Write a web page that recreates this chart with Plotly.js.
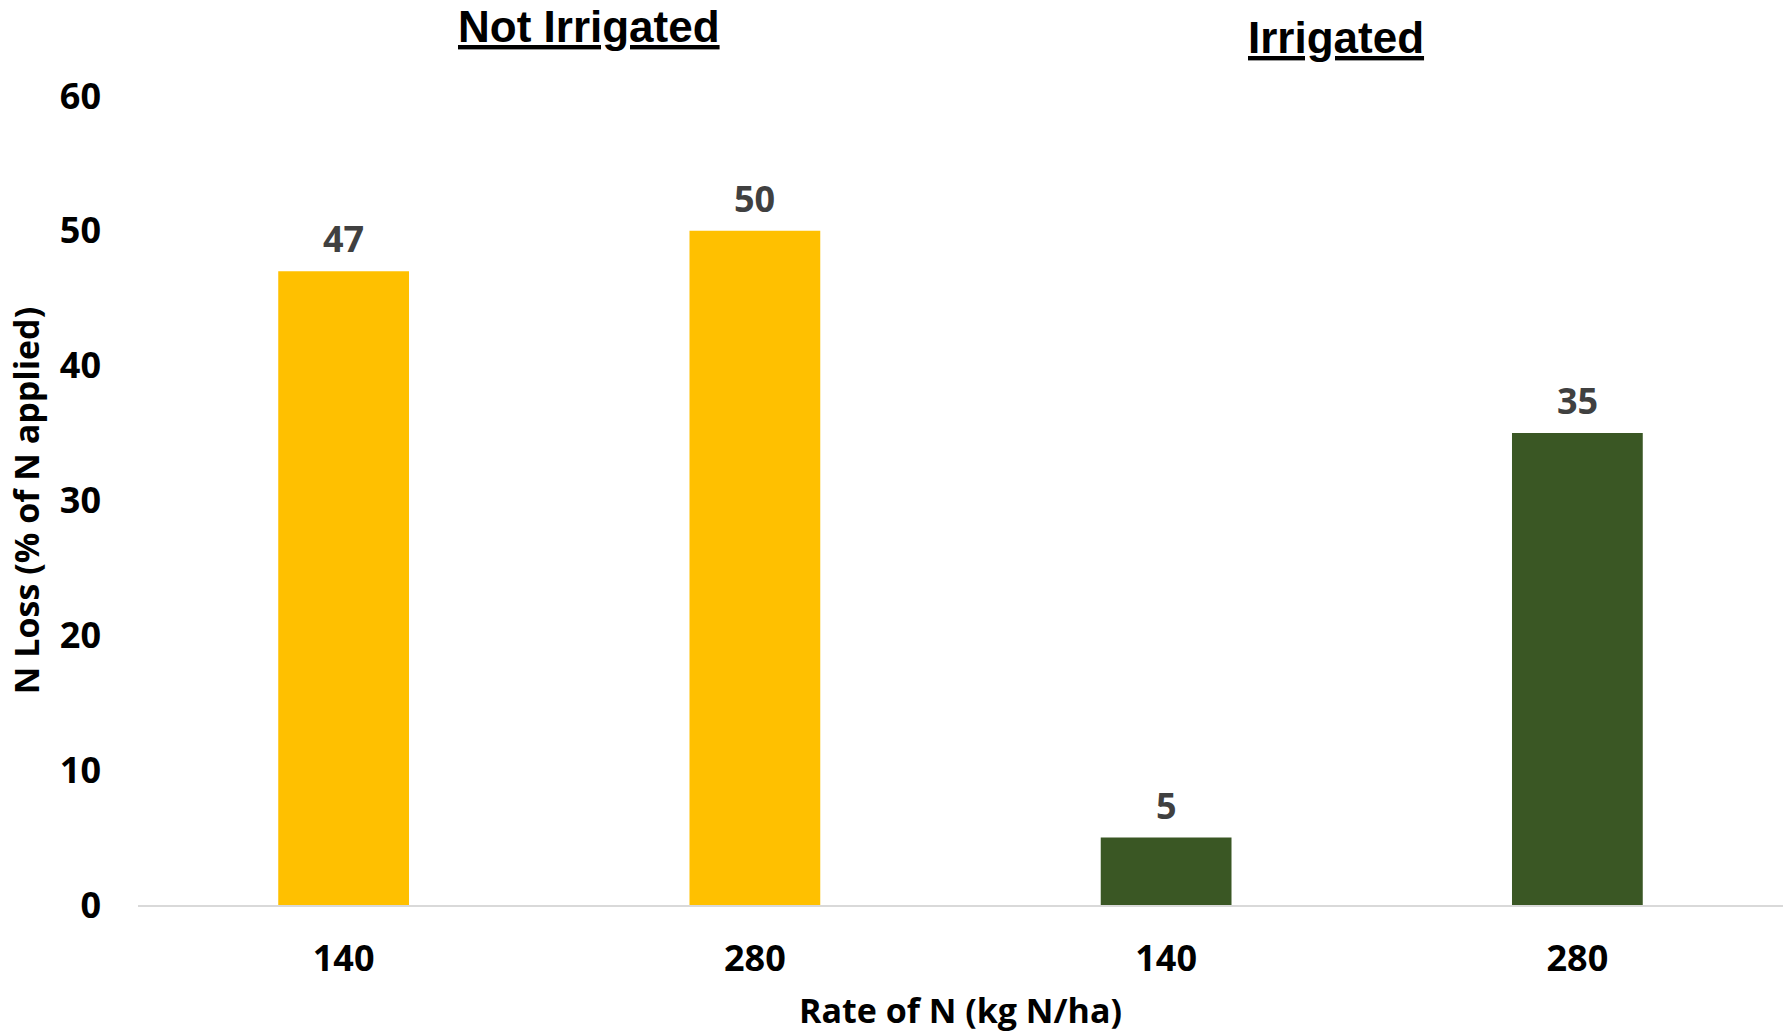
<!DOCTYPE html>
<html>
<head>
<meta charset="utf-8">
<script src="https://cdn.plot.ly/plotly-3.0.1.min.js"></script>
<style>
  html, body { margin: 0; padding: 0; background: #fff; }
  #chart { width: 1783px; height: 1033px; }
</style>
</head>
<body>
<div id="chart"></div>
<script>
// N rate treatments (kg N/ha) and the irrigation group each belongs to
const rateLabels = ['140', '280', '140', '280'];
const groups = ['Not Irrigated', 'Not Irrigated', 'Irrigated', 'Irrigated'];
// N loss as % of N applied
const nLoss = [47, 50, 5, 35];
const groupColors = { 'Not Irrigated': '#FFC000', 'Irrigated': '#3A5724' };
const groupTitles = ['Not Irrigated', 'Irrigated'];

const positions = rateLabels.map((_, i) => i);
const FONT = 'Open Sans, Liberation Sans, sans-serif';
const HEAD_FONT = 'Liberation Sans, Arial, sans-serif';

const trace = {
  type: 'bar',
  x: positions,
  y: nLoss,
  width: 0.318,
  marker: { color: groups.map(g => groupColors[g]) },
  hoverinfo: 'skip'
};

// value labels above each bar
const valueLabels = nLoss.map((v, i) => ({
  x: positions[i], y: v, xref: 'x', yref: 'y',
  text: String(v), showarrow: false,
  yanchor: 'bottom', yshift: 6,
  font: { family: FONT, size: 36, weight: 'bold', color: '#404040' }
}));

// underlined group headings
const headingPos = [
  { x: 0.274, y: 1.0857 },
  { x: 0.728, y: 1.0721 }
];
const headings = groupTitles.map((t, i) => ({
  x: headingPos[i].x, y: headingPos[i].y, xref: 'paper', yref: 'paper',
  text: '<u>' + t + '</u>', showarrow: false,
  xanchor: 'center', yanchor: 'middle',
  font: { family: HEAD_FONT, size: 44, weight: 'bold', color: '#000' }
}));

const layout = {
  width: 1783, height: 1033,
  margin: { l: 138, r: 0, t: 96, b: 128 },
  paper_bgcolor: '#fff', plot_bgcolor: '#fff',
  font: { family: FONT, size: 36, weight: 'bold', color: '#000' },
  showlegend: false,
  xaxis: {
    range: [-0.5, 3.5],
    tickvals: positions,
    ticktext: rateLabels,
    showgrid: false, zeroline: false,
    showline: true, linecolor: '#D9D9D9', linewidth: 2,
    ticks: '', ticklabelstandoff: 21,
    tickfont: { family: FONT, size: 36, weight: 'bold', color: '#000' },
    title: { text: 'Rate of N (kg N/ha)', standoff: 27,
             font: { family: FONT, size: 34, weight: 'bold', color: '#000' } },
    fixedrange: true
  },
  yaxis: {
    range: [0, 60], dtick: 10,
    showgrid: false, zeroline: false, showline: false,
    ticks: '', ticklabelstandoff: 36,
    tickfont: { family: FONT, size: 36, weight: 'bold', color: '#000' },
    title: { text: 'N Loss (% of N applied)', standoff: 9,
             font: { family: FONT, size: 34, weight: 'bold', color: '#000' } },
    fixedrange: true
  },
  annotations: valueLabels.concat(headings)
};

Plotly.newPlot('chart', [trace], layout, { displayModeBar: false, staticPlot: true });
</script>
</body>
</html>
